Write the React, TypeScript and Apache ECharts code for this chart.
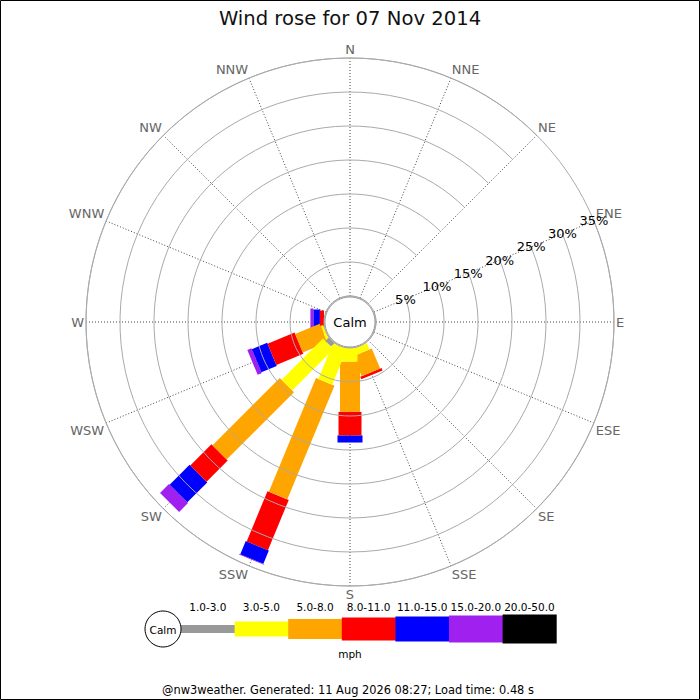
import React, { useEffect, useRef } from 'react';
import * as echarts from 'echarts';

// ---------- data ----------
const DIRECTIONS = ['N', 'NNE', 'NE', 'ENE', 'E', 'ESE', 'SE', 'SSE', 'S', 'SSW', 'SW', 'WSW', 'W', 'WNW', 'NW', 'NNW'];
const SPEED_BINS = ['1.0-3.0', '3.0-5.0', '5.0-8.0', '8.0-11.0', '11.0-15.0', '15.0-20.0', '20.0-50.0'];
// percent of time, per direction (N .. NNW), per speed bin
const PCT_1_3 = [0, 0, 0, 0, 0, 0, 0, 0, 0, 0, 0.7, 0, 0, 0, 0, 0];
const PCT_3_5 = [0, 0, 0, 0, 0, 0, 0, 1.0, 2.0, 5.7, 8.6, 0.4, 0, 0, 0, 0];
const PCT_5_8 = [0, 0, 0, 0, 0, 0, 0, 3.2, 7.4, 18.1, 14.0, 3.9, 0, 0, 0, 0];
const PCT_8_11 = [0, 0, 0, 0, 0, 0, 0, 0.4, 3.45, 8.0, 4.4, 4.3, 0.6, 0, 0, 0];
const PCT_11_15 = [0, 0, 0, 0, 0, 0, 0, 0, 1.05, 2.1, 4.15, 2.45, 0.95, 0, 0, 0];
const PCT_15_20 = [0, 0, 0, 0, 0, 0, 0, 0, 0, 0.1, 1.85, 0.65, 0.45, 0, 0, 0];
const PCT_20_50 = [0, 0, 0, 0, 0, 0, 0, 0, 0, 0, 0, 0, 0, 0, 0, 0];
const RADIUS_MAX = 35;
const RADIUS_STEP = 5;
const TITLE = 'Wind rose for 07 Nov 2014';
const CALM_LABEL = 'Calm';
const UNIT = 'mph';
const FOOTER = '@nw3weather. Generated: 11 Aug 2026 08:27; Load time: 0.48 s';

// ---------- style ----------
const BIN_SERIES = [PCT_1_3, PCT_3_5, PCT_5_8, PCT_8_11, PCT_11_15, PCT_15_20, PCT_20_50];
const BIN_COLORS = ['#999999', '#ffff00', '#ffa500', '#ff0000', '#0000ff', '#a020f0', '#000000'];
const BIN_WIDTHS = [8, 15, 20, 23, 25, 27, 29];
const FONT = '"DejaVu Sans", Verdana, sans-serif';
const CX = 350;
const CY = 322;
const R0 = 26;
const R1 = 264;
// radius labels run along ENE, so the angle axis starts there
const START_INDEX = DIRECTIONS.indexOf('ENE');
const ANGLE_ORDER = DIRECTIONS.slice(START_INDEX).concat(DIRECTIONS.slice(0, START_INDEX));
const axisIndexOf = (d: number) => (d - START_INDEX + DIRECTIONS.length) % DIRECTIONS.length;

function buildData() {
  const items: any[] = [];
  DIRECTIONS.forEach((_, d) => {
    let cum = 0;
    BIN_SERIES.forEach((arr, b) => {
      const v = arr[d];
      if (v > 0) {
        items.push({ value: [cum, cum + v, axisIndexOf(d), b] });
        cum += v;
      }
    });
  });
  // draw outer (faster) bins first so inner ones stay visible
  items.sort((a, b) => b.value[3] - a.value[3]);
  return items;
}

function buildGraphics() {
  const els: any[] = [];
  // frame
  els.push({
    type: 'rect', z: 200, silent: true,
    shape: { x: 0.5, y: 0.5, width: 699, height: 699 },
    style: { fill: 'none', stroke: '#000', lineWidth: 1 },
  });
  // calm circle in the middle
  els.push({
    type: 'circle', z: 100,
    shape: { cx: CX, cy: CY, r: 25 },
    style: { fill: '#fff', stroke: '#999', lineWidth: 1 },
  });
  els.push({
    type: 'text', z: 101, x: CX, y: CY,
    style: { text: CALM_LABEL, fontSize: 13, fontFamily: FONT, fill: '#000', align: 'center', verticalAlign: 'middle' },
  });
  // legend
  const ly = 629;
  const lx0 = 181;
  const lw = 53.6;
  els.push({
    type: 'circle', z: 100,
    shape: { cx: 163, cy: ly, r: 18 },
    style: { fill: '#fff', stroke: '#000', lineWidth: 1 },
  });
  els.push({
    type: 'text', z: 101, x: 163, y: ly + 1,
    style: { text: CALM_LABEL, fontSize: 10.5, fontFamily: FONT, fill: '#000', align: 'center', verticalAlign: 'middle' },
  });
  SPEED_BINS.forEach((lab, b) => {
    const h = BIN_WIDTHS[b];
    els.push({
      type: 'rect', z: 99,
      shape: { x: lx0 + b * lw, y: ly - h / 2, width: lw + 0.5, height: h },
      style: { fill: BIN_COLORS[b] },
    });
    els.push({
      type: 'text', z: 101, x: lx0 + b * lw + lw / 2, y: 607,
      style: { text: lab, fontSize: 10.5, fontFamily: FONT, fill: '#000', align: 'center', verticalAlign: 'middle' },
    });
  });
  els.push({
    type: 'text', z: 101, x: 350, y: 654,
    style: { text: UNIT, fontSize: 10.5, fontFamily: FONT, fill: '#000', align: 'center', verticalAlign: 'middle' },
  });
  els.push({
    type: 'text', z: 101, x: 348, y: 690,
    style: { text: FOOTER, fontSize: 11.4, fontFamily: FONT, fill: '#000', align: 'center', verticalAlign: 'middle' },
  });
  return els;
}

export default function App() {
  const ref = useRef<HTMLDivElement>(null);
  useEffect(() => {
    if (!ref.current) return;
    const chart = echarts.init(ref.current, null, { renderer: 'svg' });
    chart.setOption({
      animation: false,
      backgroundColor: '#fff',
      textStyle: { fontFamily: FONT },
      title: {
        text: TITLE,
        left: 'center',
        top: 3,
        textStyle: { fontSize: 19.6, fontWeight: 'normal', color: '#111', fontFamily: FONT },
      },
      polar: { center: [CX, CY], radius: [R0, R1] },
      angleAxis: {
        type: 'category',
        data: ANGLE_ORDER,
        boundaryGap: false,
        startAngle: 22.5,
        clockwise: true,
        axisLine: { show: true, lineStyle: { color: '#aaa', width: 1 } },
        axisTick: { show: false },
        axisLabel: { color: '#666', fontSize: 13, margin: 2, fontFamily: FONT },
        splitLine: { show: true, lineStyle: { color: '#444', width: 1, type: [1, 2] } },
        z: 1,
      },
      radiusAxis: {
        type: 'value',
        min: 0,
        max: RADIUS_MAX,
        interval: RADIUS_STEP,
        axisLine: { show: false },
        axisTick: { show: false },
        axisLabel: {
          formatter: (v: number) => (v === 0 ? '' : v + '%'),
          color: '#000',
          fontSize: 13,
          margin: 0,
          align: 'center',
          verticalAlign: 'middle',
          fontFamily: FONT,
        },
        splitLine: { show: true, lineStyle: { color: '#aaa', width: 1 } },
        z: 50,
      },
      series: [
        {
          type: 'custom',
          coordinateSystem: 'polar',
          encode: { radius: [0, 1], angle: 2 },
          data: buildData(),
          z: 10,
          renderItem: (params: any, api: any) => {
            const cs = params.coordSys;
            const cx = cs.cx;
            const cy = cs.cy;
            const a = api.value(2);
            const b = api.value(3);
            const p0 = api.coord([api.value(0), a]);
            const p1 = api.coord([api.value(1), a]);
            let ux = p1[0] - cx;
            let uy = p1[1] - cy;
            const L = Math.hypot(ux, uy) || 1;
            ux /= L;
            uy /= L;
            const hw = BIN_WIDTHS[b] / 2;
            const px = -uy * hw;
            const py = ux * hw;
            return {
              type: 'polygon',
              shape: {
                points: [
                  [p0[0] + px, p0[1] + py],
                  [p1[0] + px, p1[1] + py],
                  [p1[0] - px, p1[1] - py],
                  [p0[0] - px, p0[1] - py],
                ],
              },
              style: { fill: BIN_COLORS[b] },
            };
          },
        },
      ],
      graphic: { elements: buildGraphics() },
    });
    return () => chart.dispose();
  }, []);
  return <div ref={ref} style={{ position: 'absolute', left: 0, top: 0, width: 700, height: 700 }} />;
}
